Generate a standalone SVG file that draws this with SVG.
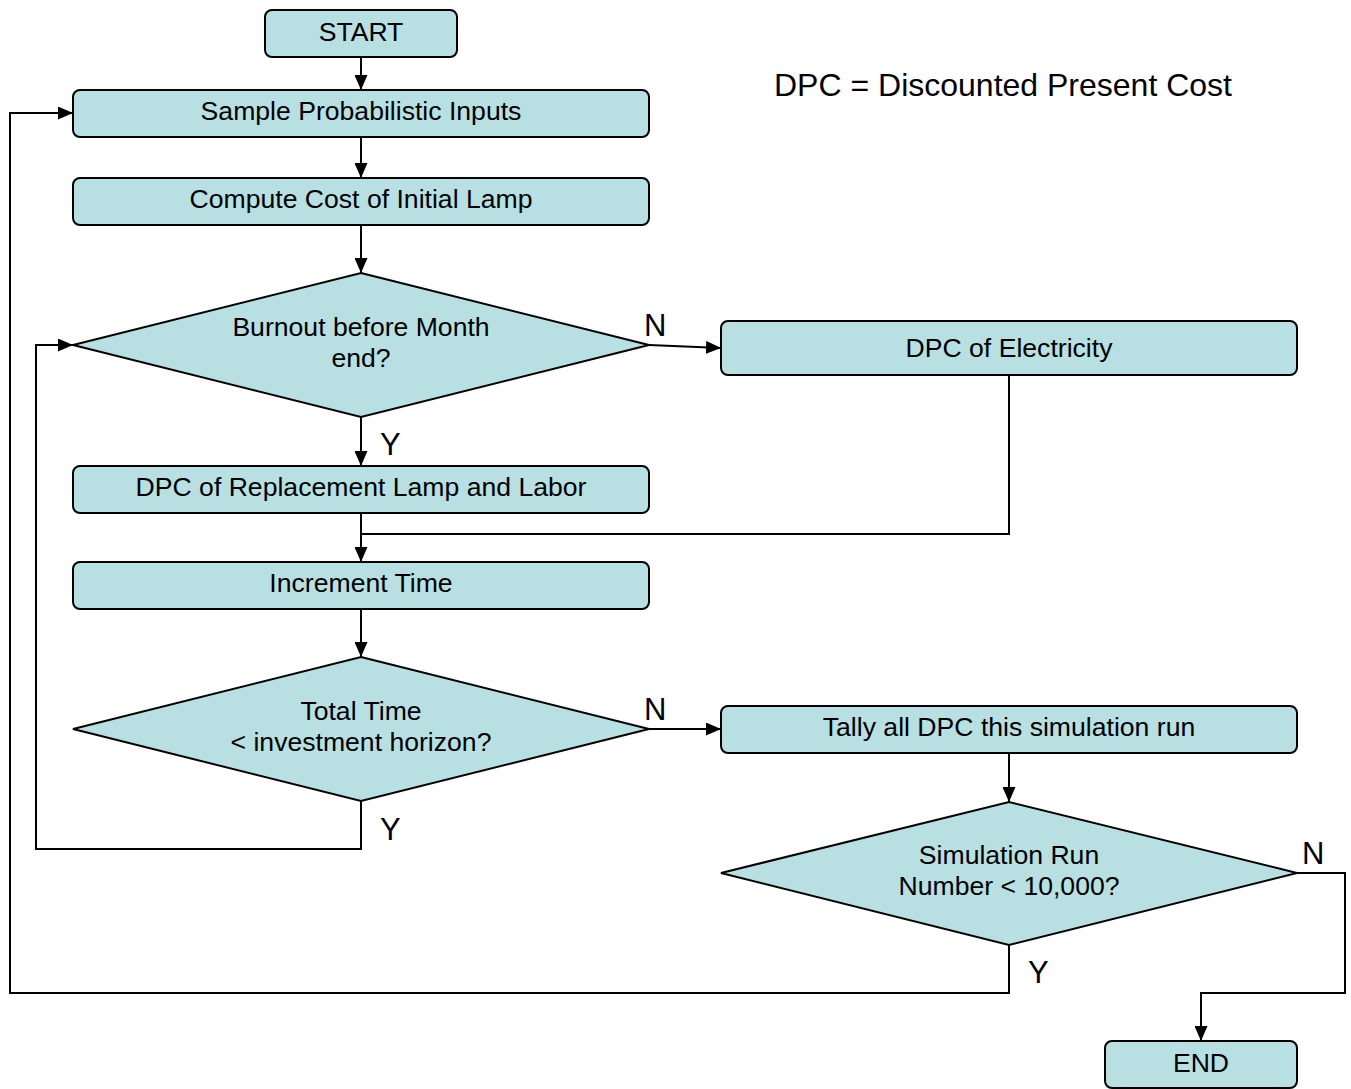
<svg xmlns="http://www.w3.org/2000/svg" width="1351" height="1089" viewBox="0 0 1351 1089">
<defs>
<marker id="arr" viewBox="0 0 10 10" refX="10" refY="5" markerWidth="15" markerHeight="13" markerUnits="userSpaceOnUse" orient="auto" preserveAspectRatio="none">
<path d="M0,0 L10,5 L0,10 Z" fill="#000"/>
</marker>
<style>
.box{fill:#b8e0e2;stroke:#000;stroke-width:2}
.t{font-family:"Liberation Sans",Arial,sans-serif;font-size:26.6px;fill:#000;text-anchor:middle}
.lbl{font-family:"Liberation Sans",Arial,sans-serif;font-size:31px;fill:#000}
.c{fill:none;stroke:#000;stroke-width:2}
.ca{fill:none;stroke:#000;stroke-width:2;marker-end:url(#arr)}
</style>
</defs>
<rect width="1351" height="1089" fill="#fff"/>
<g id="connectors">
<path class="ca" d="M361,57 L361,90"/>
<path class="ca" d="M361,137 L361,178"/>
<path class="ca" d="M361,225 L361,273"/>
<path class="ca" d="M649,345 L721,348"/>
<path class="ca" d="M361,417 L361,466"/>
<path class="c" d="M1009,375 L1009,534 L361,534"/>
<path class="ca" d="M361,513 L361,562"/>
<path class="ca" d="M361,609 L361,657"/>
<path class="ca" d="M649,729 L721,729"/>
<path class="ca" d="M361,801 L361,849 L36,849 L36,345 L73,345"/>
<path class="ca" d="M1009,753 L1009,802"/>
<path class="ca" d="M1009,945 L1009,993 L10,993 L10,113 L73,113"/>
<path class="ca" d="M1297,873 L1345,873 L1345,993 L1201,993 L1201,1041"/>
<text class="lbl" x="644" y="336">N</text>
<text class="lbl" x="380" y="455">Y</text>
<text class="lbl" x="644" y="720">N</text>
<text class="lbl" x="380" y="840">Y</text>
<text class="lbl" x="1302" y="864">N</text>
<text class="lbl" x="1028" y="983">Y</text>
</g>
<g id="start"><rect class="box" x="265" y="10" width="192" height="47" rx="7"/><text class="t" x="361" y="41">START</text></g>
<g id="sample"><rect class="box" x="73" y="90" width="576" height="47" rx="7"/><text class="t" x="361" y="120">Sample Probabilistic Inputs</text></g>
<g id="compute"><rect class="box" x="73" y="178" width="576" height="47" rx="7"/><text class="t" x="361" y="208">Compute Cost of Initial Lamp</text></g>
<g id="burnout"><polygon class="box" points="361,273 649,345 361,417 73,345"/><text class="t" x="361" y="336">Burnout before Month</text><text class="t" x="361" y="367">end?</text></g>
<g id="electricity"><rect class="box" x="721" y="321" width="576" height="54" rx="7"/><text class="t" x="1009" y="357">DPC of Electricity</text></g>
<g id="replacement"><rect class="box" x="73" y="466" width="576" height="47" rx="7"/><text class="t" x="361" y="496">DPC of Replacement Lamp and Labor</text></g>
<g id="increment"><rect class="box" x="73" y="562" width="576" height="47" rx="7"/><text class="t" x="361" y="592">Increment Time</text></g>
<g id="totaltime"><polygon class="box" points="361,657 649,729 361,801 73,729"/><text class="t" x="361" y="720">Total Time</text><text class="t" x="361" y="751">&lt; investment horizon?</text></g>
<g id="tally"><rect class="box" x="721" y="706" width="576" height="47" rx="7"/><text class="t" x="1009" y="736">Tally all DPC this simulation run</text></g>
<g id="simrun"><polygon class="box" points="1009,802 1297,873 1009,945 721,873"/><text class="t" x="1009" y="864">Simulation Run</text><text class="t" x="1009" y="895">Number &lt; 10,000?</text></g>
<g id="end"><rect class="box" x="1105" y="1041" width="192" height="47" rx="7"/><text class="t" x="1201" y="1072">END</text></g>
<g id="note"><text class="lbl" x="1003" y="96" text-anchor="middle" style="font-size:32px">DPC = Discounted Present Cost</text></g>
</svg>
